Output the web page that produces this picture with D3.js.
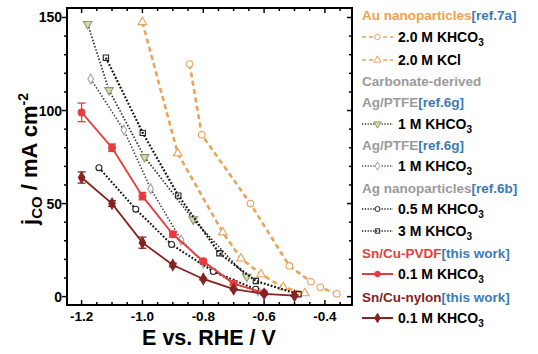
<!DOCTYPE html>
<html>
<head>
<meta charset="utf-8">
<script src="https://cdn.jsdelivr.net/npm/d3@7"></script>
<style>
  body { margin: 0; background: #fff; }
  svg text { font-family: "Liberation Sans", Arial, sans-serif; font-weight: bold; }
</style>
</head>
<body>
<div id="chart"></div>
<script>
var w = 538
var h = 354

// potentials (V vs RHE) and CO partial current densities (mA cm-2)
var auKhco3X = [-0.845, -0.805, -0.645, -0.517, -0.446, -0.415, -0.361];
var auKhco3Y = [125, 87, 50, 16.5, 8, 5, 1.5];

var auKclX = [-1.0, -0.884, -0.736, -0.676, -0.61, -0.537, -0.466];
var auKclY = [147.5, 77, 34.5, 20.5, 12, 5, 1.8];

var agCarbX = [-1.18, -1.11, -0.993, -0.833, -0.657];
var agCarbY = [146.5, 111, 75, 41.5, 10.7];

var agPtfeX = [-1.17, -1.061, -0.973, -0.873, -0.8, -0.7, -0.62];
var agPtfeY = [117, 89.5, 58, 30.5, 18, 7, 3];

var agNp05X = [-1.143, -1.022, -0.904, -0.767, -0.628];
var agNp05Y = [69.3, 47, 28, 13.5, 4];

var agNp3X = [-1.12, -0.999, -0.882, -0.747, -0.627, -0.487];
var agNp3Y = [128.4, 88, 54.3, 23.3, 8.4, 1.3];

var pvdfX = [-1.2, -1.1, -1.0, -0.9, -0.8, -0.7, -0.6];
var pvdfY = [99, 80, 54, 33.5, 19, 7, 2];
var pvdfErr = [5, 2, 2, 1.5, 1, 1, 0.5];

var nylonX = [-1.2, -1.1, -1.0, -0.9, -0.8, -0.7, -0.6, -0.5];
var nylonY = [64, 50, 29, 17, 9.5, 4, 1.5, 0.5];
var nylonErr = [3, 1.5, 3, 1, 0.5, 0.5, 0.5, 0.3];

var xTicks = [-1.2, -1.0, -0.8, -0.6, -0.4];
var yTicks = [0, 50, 100, 150];

var orange = "#e9a35c", orangeText = "#f0a04a", green = "#8e9c62", grey = "#a3a3a3",
    red = "#e63c3c", darkRed = "#862222", blue = "#3d7ab5", greyText = "#9a9a9a";

var box = { left: 67, top: 8, right: 352, bottom: 305 };

var x = d3.scaleLinear().domain([-1.248, -0.311]).range([box.left, box.right]);
var y = d3.scaleLinear().domain([-4.5, 155.1]).range([box.bottom, box.top]);

var svg = d3.select("#chart").append("svg")
    .attr("width", w)
    .attr("height", h);

function zip(xs, ys) { return xs.map(function(v, i) { return [v, ys[i]]; }); }

var series = [
  { pts: zip(auKhco3X, auKhco3Y), stroke: orange, width: 2.6, dash: "5,3.5", sym: d3.symbolCircle, size: 34, mk: orange, fill: "#fff" },
  { pts: zip(auKclX, auKclY), stroke: orange, width: 2.6, dash: "5,3.5", sym: d3.symbolTriangle, size: 32, mk: orange, fill: "#fff" },
  { pts: zip(agCarbX, agCarbY), stroke: "#222", width: 1.6, dash: "1.5,1.8", sym: d3.symbolTriangle, size: 32, mk: green, fill: "#d3dbb8", flip: true },
  { pts: zip(agPtfeX, agPtfeY), stroke: "#444", width: 1.6, dash: "1.5,1.8", sym: d3.symbolDiamond, size: 28, mk: grey, fill: "#fff" },
  { pts: zip(agNp05X, agNp05Y), stroke: "#111", width: 2, dash: "1.8,1.8", sym: d3.symbolCircle, size: 28, mk: "#222", fill: "#fff" },
  { pts: zip(agNp3X, agNp3Y), stroke: "#111", width: 2.2, dash: "1.8,1.8", sym: d3.symbolSquare, size: 28, mk: "#222", fill: "none" },
  { pts: zip(pvdfX, pvdfY), err: pvdfErr, stroke: red, width: 1.8, dash: null, sym: d3.symbolCircle, size: 36, mk: red, fill: red },
  { pts: zip(nylonX, nylonY), err: nylonErr, stroke: darkRed, width: 1.8, dash: null, sym: d3.symbolDiamond, size: 36, mk: darkRed, fill: darkRed }
];

var line = d3.line().x(function(d) { return x(d[0]); }).y(function(d) { return y(d[1]); });

var plot = svg.append("g");

series.forEach(function(s) {
  plot.append("path")
    .attr("d", line(s.pts))
    .attr("fill", "none")
    .attr("stroke", s.stroke)
    .attr("stroke-width", s.width)
    .attr("stroke-dasharray", s.dash);

  if (s.err) {
    s.pts.forEach(function(d, i) {
      var e = s.err[i];
      var g = plot.append("g").attr("stroke", s.mk).attr("stroke-width", 1.3);
      g.append("line").attr("x1", x(d[0])).attr("x2", x(d[0])).attr("y1", y(d[1] - e)).attr("y2", y(d[1] + e));
      g.append("line").attr("x1", x(d[0]) - 4).attr("x2", x(d[0]) + 4).attr("y1", y(d[1] - e)).attr("y2", y(d[1] - e));
      g.append("line").attr("x1", x(d[0]) - 4).attr("x2", x(d[0]) + 4).attr("y1", y(d[1] + e)).attr("y2", y(d[1] + e));
    });
  }

  plot.selectAll(null).data(s.pts).enter()
    .append("path")
    .attr("d", d3.symbol().type(s.sym).size(s.size))
    .attr("transform", function(d) { return "translate(" + x(d[0]) + "," + y(d[1]) + ")" + (s.flip ? " rotate(180)" : ""); })
    .attr("fill", s.fill)
    .attr("stroke", s.mk)
    .attr("stroke-width", 1.1);
});

// frame and ticks
var axes = svg.append("g").attr("stroke", "#000");
axes.append("rect")
  .attr("x", box.left).attr("y", box.top)
  .attr("width", box.right - box.left).attr("height", box.bottom - box.top)
  .attr("fill", "none").attr("stroke-width", 2);

d3.range(-1.2, -0.349, 0.05).forEach(function(v) {
  var major = xTicks.some(function(t) { return Math.abs(t - v) < 1e-6; });
  var len = major ? 5 : 3;
  axes.append("line").attr("x1", x(v)).attr("x2", x(v)).attr("y1", box.bottom).attr("y2", box.bottom - len).attr("stroke-width", 1.5);
  axes.append("line").attr("x1", x(v)).attr("x2", x(v)).attr("y1", box.top).attr("y2", box.top + len).attr("stroke-width", 1.5);
});
d3.range(0, 151, 10).forEach(function(v) {
  var major = v % 50 === 0;
  var len = major ? 5 : 3;
  axes.append("line").attr("x1", box.left).attr("x2", box.left - len).attr("y1", y(v)).attr("y2", y(v)).attr("stroke-width", 1.5);
  axes.append("line").attr("x1", box.right).attr("x2", box.right - len).attr("y1", y(v)).attr("y2", y(v)).attr("stroke-width", 1.5);
});

svg.selectAll("text.xt").data(xTicks).enter()
  .append("text")
    .attr("class", "xt")
    .attr("x", function(d) { return x(d); })
    .attr("y", 321)
    .attr("text-anchor", "middle")
    .style("font-size", "13.5px")
    .text(function(d) { return d.toFixed(1); });

svg.selectAll("text.yt").data(yTicks).enter()
  .append("text")
    .attr("class", "yt")
    .attr("x", 62)
    .attr("y", function(d) { return y(d) + 5; })
    .attr("text-anchor", "end")
    .style("font-size", "14px")
    .text(function(d) { return d; });

svg.append("text")
  .attr("x", 209).attr("y", 345)
  .attr("text-anchor", "middle")
  .style("font-size", "21.5px")
  .text("E vs. RHE / V");

var yt = svg.append("text")
  .attr("transform", "translate(37,159) rotate(-90)")
  .attr("text-anchor", "middle")
  .style("font-size", "22px");
yt.append("tspan").text("j");
yt.append("tspan").attr("dy", 5).style("font-size", "15px").text("CO");
yt.append("tspan").attr("dy", -5).text(" / mA cm");
yt.append("tspan").attr("dy", -9).style("font-size", "14px").text("-2");

// legend
var titles = [
  { y: 20, name: "Au nanoparticles", ref: "[ref.7a]", color: orangeText },
  { y: 86, name: "Carbonate-derived", ref: "", color: greyText },
  { y: 107, name: "Ag/PTFE", ref: "[ref.6g]", color: greyText },
  { y: 150, name: "Ag/PTFE", ref: "[ref.6g]", color: greyText },
  { y: 193, name: "Ag nanoparticles", ref: "[ref.6b]", color: greyText },
  { y: 258, name: "Sn/Cu-PVDF", ref: "[this work]", color: red },
  { y: 302, name: "Sn/Cu-nylon", ref: "[this work]", color: darkRed }
];
var entries = [
  { y: 37, s: 0, label: "2.0 M KHCO", sub: "3" },
  { y: 60, s: 1, label: "2.0 M KCl", sub: "" },
  { y: 124, s: 2, label: "1 M KHCO", sub: "3" },
  { y: 166, s: 3, label: "1 M KHCO", sub: "3" },
  { y: 209, s: 4, label: "0.5 M KHCO", sub: "3" },
  { y: 231, s: 5, label: "3 M KHCO", sub: "3" },
  { y: 274, s: 6, label: "0.1 M KHCO", sub: "3" },
  { y: 318, s: 7, label: "0.1 M KHCO", sub: "3" }
];

var legend = svg.append("g");
titles.forEach(function(t) {
  var tx = legend.append("text").attr("x", 362).attr("y", t.y).style("font-size", "13.5px");
  tx.append("tspan").attr("fill", t.color).text(t.name);
  tx.append("tspan").attr("fill", blue).text(t.ref);
});
entries.forEach(function(e) {
  var s = series[e.s];
  legend.append("line")
    .attr("x1", 362).attr("x2", 393).attr("y1", e.y).attr("y2", e.y)
    .attr("stroke", s.stroke).attr("stroke-width", s.dash ? 1.6 : 2)
    .attr("stroke-dasharray", s.dash ? (s.stroke === orange ? "4,3" : "1.2,1.6") : null);
  legend.append("path")
    .attr("d", d3.symbol().type(s.sym).size(s.size * 0.7))
    .attr("transform", "translate(377.5," + e.y + ")" + (s.flip ? " rotate(180)" : ""))
    .attr("fill", s.fill).attr("stroke", s.mk).attr("stroke-width", 1);
  var tx = legend.append("text").attr("x", 398).attr("y", e.y + 5).style("font-size", "14px");
  tx.append("tspan").text(e.label);
  if (e.sub) tx.append("tspan").attr("dy", 4).style("font-size", "10px").text(e.sub);
});
</script>
</body>
</html>
